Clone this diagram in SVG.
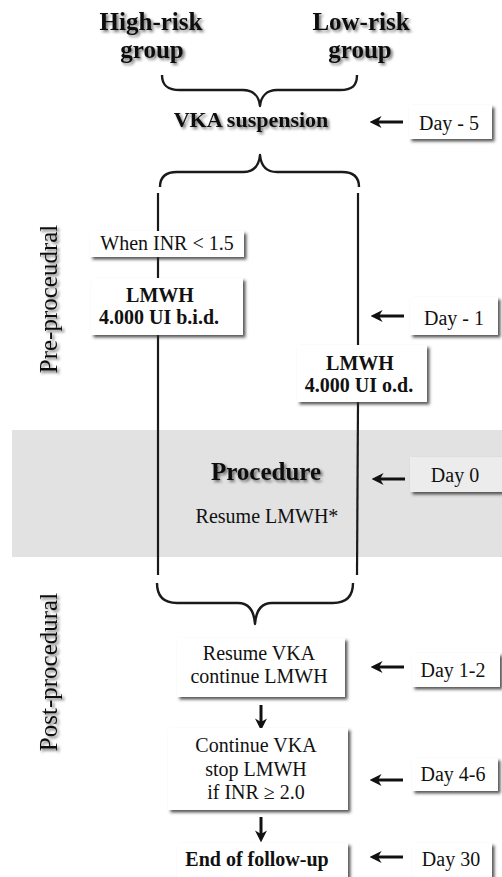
<svg xmlns="http://www.w3.org/2000/svg" width="502" height="877" viewBox="0 0 502 877">
<style>
  text { font-family: "Liberation Serif", "Times New Roman", serif; fill: #111; text-anchor: middle; }
  .title { font-size: 25px; font-weight: bold; }
  .head { font-size: 22px; font-weight: bold; }
  .proc { font-size: 25px; font-weight: bold; }
  .t { font-size: 20px; }
  .b { font-size: 20px; font-weight: bold; }
  .side { font-size: 25px; }
  .box { fill: #ffffff; }
  .band { fill: #e2e2e2; }
  .line { stroke: #1a1a1a; stroke-width: 2.2; fill: none; }
  .brace { stroke: #1a1a1a; stroke-width: 2.4; fill: none; stroke-linejoin: round; }
  .larrow { stroke: #111; stroke-width: 3; fill: none; marker-end: url(#lhead); }
  .darrow { stroke: #111; stroke-width: 3; fill: none; marker-end: url(#dhead); }
</style>
<defs>
  <filter id="boxshadow" x="-10%" y="-20%" width="130%" height="150%">
    <feDropShadow dx="2.5" dy="2.5" stdDeviation="1.4" flood-color="#333" flood-opacity="0.8"/>
  </filter>
  <filter id="txtshadow" x="-10%" y="-30%" width="130%" height="170%">
    <feGaussianBlur in="SourceAlpha" stdDeviation="1.6" result="b"/>
    <feOffset in="b" dx="1.5" dy="2" result="o"/>
    <feComponentTransfer in="o" result="s"><feFuncA type="linear" slope="0.55"/></feComponentTransfer>
    <feMerge><feMergeNode in="s"/><feMergeNode in="SourceGraphic"/></feMerge>
  </filter>
  <marker id="lhead" viewBox="0 0 10 10" refX="3" refY="5" markerWidth="4" markerHeight="4" orient="auto" markerUnits="strokeWidth">
    <path d="M0,0 L10,5 L0,10 L3,5 z" fill="#111"/>
  </marker>
  <marker id="dhead" viewBox="0 0 10 10" refX="3" refY="5" markerWidth="4" markerHeight="4" orient="auto" markerUnits="strokeWidth">
    <path d="M0,0 L10,5 L0,10 L3,5 z" fill="#111"/>
  </marker>
</defs>

<rect class="band" x="12" y="430" width="490" height="127"/>

<g id="side-labels" filter="url(#txtshadow)">
  <text class="side" transform="translate(57,299) rotate(-90)">Pre-proceudral</text>
  <text class="side" transform="translate(57,672) rotate(-90)">Post-procedural</text>
</g>

<g id="connectors">
  <path class="brace" d="M162,75 C162,86 168,90 180,90 L243,90 C253,90 259,96 260,106 C261,96 267,90 277,90 L340,90 C352,90 357,86 357,75"/>
  <path class="brace" d="M160,187 C160,177 165,172 177,172 L243,172 C253,172 259,166 260,155 C261,166 267,172 277,172 L342,172 C354,172 359,177 359,187"/>
  <path class="brace" d="M157,583 C157,596 163,603 177,603 L238,603 C249,603 254,610 255,624 C256,610 261,603 272,603 L333,603 C347,603 353,596 353,583"/>
  <line class="line" x1="158" y1="193" x2="158" y2="231"/>
  <line class="line" x1="158" y1="257" x2="158" y2="278"/>
  <line class="line" x1="158" y1="335" x2="158" y2="575"/>
  <line class="line" x1="358" y1="193" x2="358" y2="345"/>
  <line class="line" x1="358" y1="402" x2="357" y2="575"/>
  <line class="larrow" x1="403" y1="122" x2="378" y2="122"/>
  <line class="larrow" x1="404" y1="316" x2="379" y2="316"/>
  <line class="larrow" x1="405" y1="479" x2="380" y2="479"/>
  <line class="larrow" x1="404" y1="667" x2="379" y2="667"/>
  <line class="larrow" x1="403" y1="780" x2="378" y2="780"/>
  <line class="larrow" x1="403" y1="857" x2="378" y2="857"/>
  <line class="darrow" x1="261" y1="705" x2="261" y2="722"/>
  <line class="darrow" x1="261" y1="817" x2="261" y2="834"/>
</g>

<g id="titles" filter="url(#txtshadow)">
  <text class="title" x="151" y="30">High-risk</text>
  <text class="title" x="152" y="58">group</text>
  <text class="title" x="361" y="30">Low-risk</text>
  <text class="title" x="360" y="58">group</text>
</g>

<g id="vka-suspension" filter="url(#txtshadow)">
  <text class="head" x="251" y="127">VKA suspension</text>
</g>

<g id="day-5">
  <rect class="box" x="409" y="105" width="83" height="34" filter="url(#boxshadow)"/>
  <text class="t" x="449" y="130">Day - 5</text>
</g>

<g id="when-inr">
  <rect class="box" x="90" y="231" width="154" height="26" filter="url(#boxshadow)"/>
  <text class="t" x="167" y="250">When INR &lt; 1.5</text>
</g>

<g id="lmwh-bid">
  <rect class="box" x="91" y="278" width="152" height="57" filter="url(#boxshadow)"/>
  <text class="b" x="160" y="302">LMWH</text>
  <text class="b" x="159" y="324">4.000 UI b.i.d.</text>
</g>

<g id="day-1">
  <rect class="box" x="410" y="297" width="88" height="38" filter="url(#boxshadow)"/>
  <text class="t" x="454" y="325">Day - 1</text>
</g>

<g id="lmwh-od">
  <rect class="box" x="297" y="345" width="130" height="57" filter="url(#boxshadow)"/>
  <text class="b" x="360" y="370">LMWH</text>
  <text class="b" x="359" y="392">4.000 UI o.d.</text>
</g>

<g id="procedure">
  <text class="proc" x="266" y="480" filter="url(#txtshadow)">Procedure</text>
  <text class="t" x="267" y="523">Resume LMWH*</text>
</g>

<g id="day0">
  <rect x="410" y="457" width="92" height="35" style="fill:#ececec" filter="url(#boxshadow)"/>
  <text class="t" x="455" y="482">Day 0</text>
</g>

<g id="resume-vka">
  <rect class="box" x="177" y="638" width="168" height="59" filter="url(#boxshadow)"/>
  <text class="t" x="259" y="660">Resume VKA</text>
  <text class="t" x="259" y="683">continue LMWH</text>
</g>

<g id="day1-2">
  <rect class="box" x="412" y="653" width="88" height="34" filter="url(#boxshadow)"/>
  <text class="t" x="453" y="677">Day 1-2</text>
</g>

<g id="continue-vka">
  <rect class="box" x="168" y="728" width="180" height="82" filter="url(#boxshadow)"/>
  <text class="t" x="256" y="752">Continue VKA</text>
  <text class="t" x="256" y="776">stop LMWH</text>
  <text class="t" x="256" y="799">if INR ≥ 2.0</text>
</g>

<g id="day4-6">
  <rect class="box" x="412" y="758" width="86" height="33" filter="url(#boxshadow)"/>
  <text class="t" x="453" y="781">Day 4-6</text>
</g>

<g id="end-follow-up">
  <rect class="box" x="177" y="843" width="171" height="36" filter="url(#boxshadow)"/>
  <text class="b" x="257" y="866">End of follow-up</text>
</g>

<g id="day30">
  <rect class="box" x="412" y="843" width="80" height="36" filter="url(#boxshadow)"/>
  <text class="t" x="451" y="866">Day 30</text>
</g>
</svg>
